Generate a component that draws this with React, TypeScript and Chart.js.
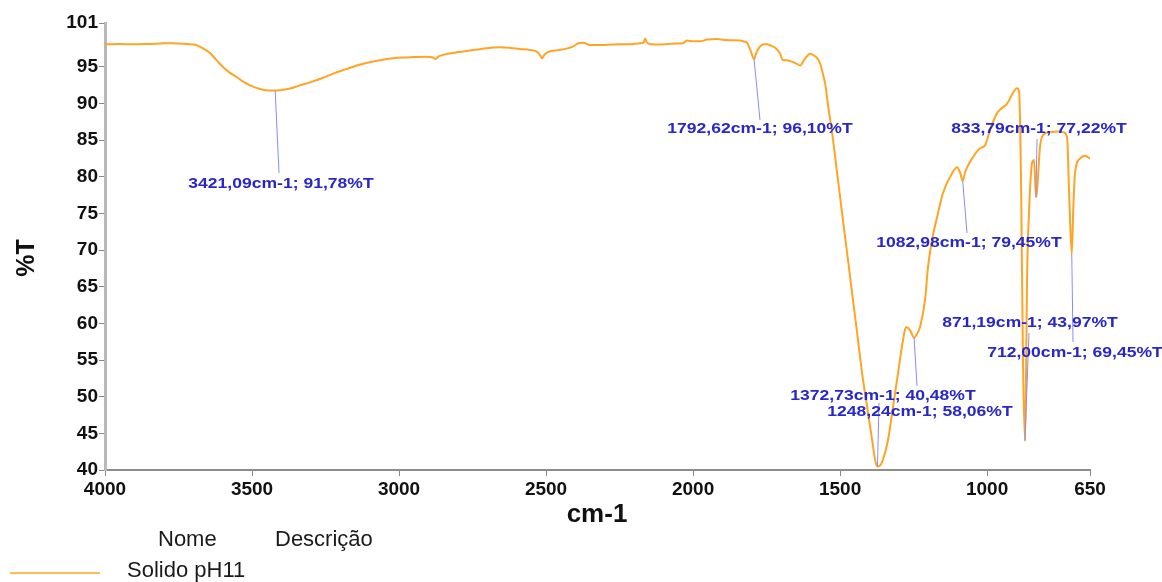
import React, { useEffect, useRef } from "react";
import { Chart, registerables } from "chart.js";

Chart.register(...registerables);

// Infrared spectrum of "Solido pH11": wavenumber (cm-1) vs transmittance (%T)
const wavenumbers = [
  4000, 3950, 3900, 3850, 3800, 3770, 3720, 3690, 3670, 3643, 3620, 3599, 3575, 3551, 3530, 3507,
  3485, 3463, 3440, 3421.09, 3400, 3371, 3340, 3303, 3260, 3224, 3180, 3143, 3100, 3054, 3020, 2986,
  2950, 2910, 2884, 2876, 2865, 2840, 2803, 2760, 2714, 2680, 2656, 2620, 2590, 2554, 2530, 2520,
  2514, 2505, 2490, 2460, 2430, 2408, 2390, 2374, 2350, 2316, 2280, 2250, 2215, 2180, 2168, 2163,
  2157, 2140, 2112, 2085, 2054, 2035, 2020, 2000, 1975, 1952, 1920, 1880, 1840, 1825, 1816, 1805,
  1792.62, 1785, 1772, 1760, 1748, 1735, 1720, 1705, 1694, 1680, 1670, 1650, 1636, 1620, 1602, 1590,
  1578, 1568, 1558, 1551, 1541, 1527, 1510, 1493, 1476, 1459, 1442, 1425, 1408, 1391, 1381, 1372.73,
  1362, 1354, 1337, 1320, 1303, 1286, 1276, 1262, 1248.24, 1238, 1228, 1211, 1201, 1187, 1170, 1150,
  1119, 1102, 1092, 1082.98, 1075, 1068, 1048, 1024, 1007, 990, 966, 932, 898, 891, 884, 878,
  871.19, 867, 864, 857, 847, 840, 833.79, 830, 820, 810, 786, 760, 741, 728, 721, 712,
  707, 701, 684, 667, 650,
];

const transmittance = [
  98.1, 98.12, 98.1, 98.15, 98.22, 98.25, 98.12, 98.0, 97.6, 96.9, 95.9, 95.0, 94.2, 93.6, 93.0, 92.5,
  92.15, 91.9, 91.8, 91.78, 91.85, 92.05, 92.45, 92.9, 93.5, 94.1, 94.7, 95.2, 95.65, 96.0, 96.2, 96.3,
  96.35, 96.4, 96.3, 96.1, 96.45, 96.75, 97.0, 97.25, 97.5, 97.65, 97.7, 97.6, 97.45, 97.3, 97.05, 96.6,
  96.2, 96.7, 97.1, 97.3, 97.5, 97.8, 98.25, 98.3, 98.0, 98.0, 98.05, 98.1, 98.1, 98.25, 98.3, 98.9,
  98.35, 98.1, 98.05, 98.15, 98.2, 98.25, 98.6, 98.5, 98.5, 98.75, 98.8, 98.65, 98.6, 98.45, 98.3, 97.3,
  96.1, 96.9, 97.8, 98.1, 98.1, 97.9, 97.6, 96.9, 95.9, 95.9, 95.8, 95.5, 95.2, 96.1, 96.8, 96.6,
  96.2, 95.5, 94.0, 92.8, 89.8, 86.0, 80.5, 75.0, 69.6, 64.1, 58.7, 53.2, 48.6, 44.1, 41.4, 40.48,
  40.7, 41.4, 44.1, 48.6, 53.2, 57.7, 59.5, 59.1, 58.06, 58.6, 59.5, 63.2, 67.7, 71.4, 74.5, 77.8,
  80.5, 81.3, 80.6, 79.45, 80.6, 81.3, 82.7, 83.9, 84.3, 86.4, 88.7, 90.0, 92.1, 91.6, 77.8, 55.0,
  43.97, 55.0, 66.3, 75.5, 81.9, 82.3, 77.22, 78.2, 84.1, 85.7, 86.1, 86.2, 86.1, 85.4, 77.8, 69.45,
  75.5, 80.5, 82.5, 82.9, 82.5,
];

// Picked peaks
const peakWavenumbers = [3421.09, 1792.62, 833.79, 1082.98, 871.19, 712.0, 1372.73, 1248.24];
const peakTransmittance = [91.78, 96.1, 77.22, 79.45, 43.97, 69.45, 40.48, 58.06];

const xTickValues = [4000, 3500, 3000, 2500, 2000, 1500, 1000, 650];
const yTickValues = [40, 45, 50, 55, 60, 65, 70, 75, 80, 85, 90, 95, 101];

const seriesName = "Solido pH11";
const xTitle = "cm-1";
const yTitle = "%T";
const legendHeaders = ["Nome", "Descrição"];

// Where each peak label sits (text centre) and where its leader line ends
const peakLabelLayout = [
  { cx: 281, cy: 184, ex: 279, ey: 173 },
  { cx: 760, cy: 129, ex: 760, ey: 120 },
  { cx: 1039, cy: 129, ex: 1037, ey: 139 },
  { cx: 969, cy: 243, ex: 967, ey: 233 },
  { cx: 1030, cy: 323, ex: 1029, ey: 333 },
  { cx: 1075, cy: 353, ex: 1073, ey: 342 },
  { cx: 883, cy: 396, ex: 879, ey: 403 },
  { cx: 920, cy: 412, ex: 917, ey: 386 },
];

const FONT = '"Liberation Sans", Arial, sans-serif';
const LINE_COLOR = "#FFA424";

const fmt = (v: number) => v.toFixed(2).replace(".", ",");

const overlayPlugin = {
  id: "spectrumOverlay",
  afterDraw(chart: any) {
    const ctx = chart.ctx as CanvasRenderingContext2D;
    const xs = chart.scales.x;
    const ys = chart.scales.y;

    // Peak leader lines
    ctx.save();
    ctx.strokeStyle = "#8a8aff";
    ctx.lineWidth = 1;
    peakWavenumbers.forEach((wn, i) => {
      const px = xs.getPixelForValue(wn);
      const py = ys.getPixelForValue(peakTransmittance[i]);
      const lay = peakLabelLayout[i];
      ctx.beginPath();
      ctx.moveTo(px, py);
      ctx.lineTo(lay.ex, lay.ey);
      ctx.stroke();
    });
    ctx.restore();

    // Peak labels
    peakWavenumbers.forEach((wn, i) => {
      const lay = peakLabelLayout[i];
      const text = `${fmt(wn)}cm-1; ${fmt(peakTransmittance[i])}%T`;
      ctx.save();
      ctx.font = `bold 15px ${FONT}`;
      ctx.fillStyle = "#2828c8";
      ctx.textAlign = "center";
      ctx.textBaseline = "middle";
      ctx.translate(lay.cx, lay.cy);
      ctx.scale(1.17, 1);
      ctx.fillText(text, 0, 0);
      ctx.restore();
    });

    // Axis titles
    ctx.save();
    ctx.fillStyle = "#111";
    ctx.font = `bold 26px ${FONT}`;
    ctx.textAlign = "center";
    ctx.textBaseline = "middle";
    ctx.fillText(xTitle, 597, 515);
    ctx.font = `bold 25px ${FONT}`;
    ctx.translate(27, 258);
    ctx.rotate(-Math.PI / 2);
    ctx.fillText(yTitle, 0, 0);
    ctx.restore();

    // Legend table
    ctx.save();
    ctx.fillStyle = "#1a1a1a";
    ctx.font = `22px ${FONT}`;
    ctx.textAlign = "left";
    ctx.textBaseline = "middle";
    ctx.fillText(legendHeaders[0], 158, 540);
    ctx.fillText(legendHeaders[1], 275, 540);
    ctx.fillText(seriesName, 127, 571);
    ctx.strokeStyle = LINE_COLOR;
    ctx.lineWidth = 1.5;
    ctx.beginPath();
    ctx.moveTo(10, 573);
    ctx.lineTo(100, 573);
    ctx.stroke();
    ctx.restore();
  },
};

export default function App() {
  const canvasRef = useRef<HTMLCanvasElement | null>(null);

  useEffect(() => {
    const canvas = canvasRef.current;
    if (!canvas) return;
    const points = wavenumbers.map((x, i) => ({ x, y: transmittance[i] }));

    const chart = new Chart(canvas, {
      type: "line",
      data: {
        datasets: [
          {
            label: seriesName,
            data: points,
            borderColor: LINE_COLOR,
            borderWidth: 2,
            pointRadius: 0,
            fill: false,
            cubicInterpolationMode: "monotone",
          },
        ],
      },
      options: {
        animation: false,
        responsive: false,
        devicePixelRatio: 1,
        layout: { padding: { top: 23, right: 72, left: 0, bottom: 0 } },
        plugins: {
          legend: { display: false },
          tooltip: { enabled: false },
        },
        scales: {
          x: {
            type: "linear",
            reverse: true,
            min: 650,
            max: 4000,
            afterBuildTicks: (s: any) => {
              s.ticks = xTickValues.map((v) => ({ value: v }));
            },
            afterFit: (s: any) => {
              s.height = 112;
            },
            ticks: {
              autoSkip: false,
              maxRotation: 0,
              minRotation: 0,
              color: "#111",
              padding: 2,
              font: { family: FONT, size: 19, weight: "bold" },
              callback: (v: any) => String(v),
            },
            grid: {
              display: true,
              drawOnChartArea: false,
              drawTicks: true,
              tickLength: 6,
              tickColor: "#888",
              color: "#888",
            },
            border: { display: true, color: "#8c8c8c", width: 2 },
          },
          y: {
            type: "linear",
            min: 40,
            max: 101,
            afterBuildTicks: (s: any) => {
              s.ticks = yTickValues.map((v) => ({ value: v }));
            },
            afterFit: (s: any) => {
              s.width = 105;
            },
            ticks: {
              autoSkip: false,
              color: "#111",
              padding: 1,
              font: { family: FONT, size: 19, weight: "bold" },
              callback: (v: any) => String(v),
            },
            grid: {
              display: true,
              drawOnChartArea: false,
              drawTicks: true,
              tickLength: 6,
              tickColor: "#888",
              color: "#888",
            },
            border: { display: true, color: "#b8b8b8", width: 3 },
          },
        },
      },
      plugins: [overlayPlugin],
    } as any);

    return () => chart.destroy();
  }, []);

  return (
    <div
      style={{
        position: "fixed",
        left: 0,
        top: 0,
        width: 1162,
        height: 582,
        background: "#fff",
      }}
    >
      <canvas ref={canvasRef} width={1162} height={582} style={{ display: "block" }} />
    </div>
  );
}
